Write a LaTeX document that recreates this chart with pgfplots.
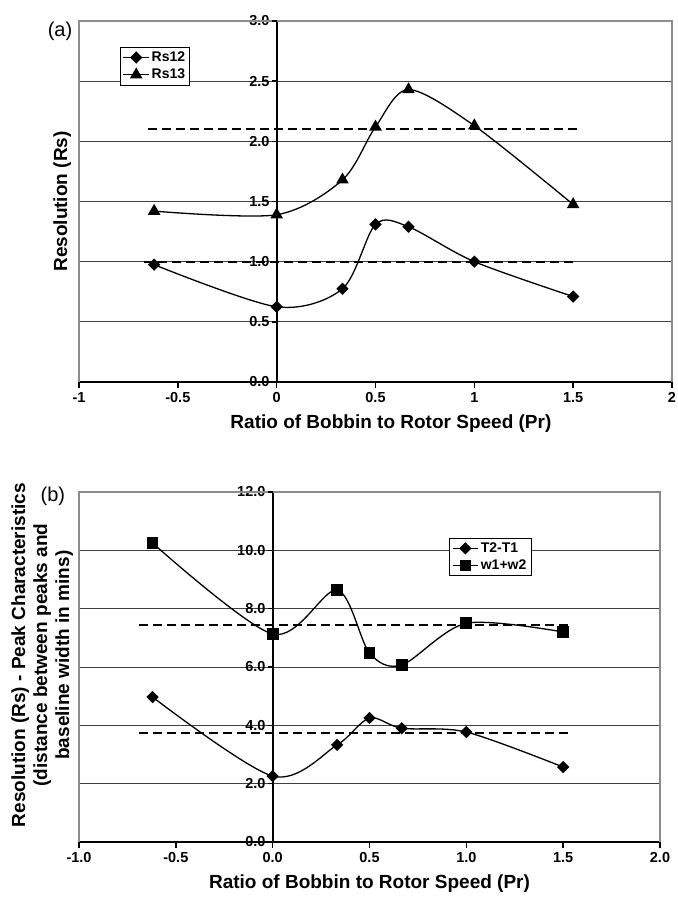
\documentclass[border=0pt]{standalone}
\usepackage{pgfplots}
\pgfplotsset{compat=1.18}
\usepackage{fontspec}
\setmainfont{Liberation Sans}
\tikzset{tk/.style={line width=1.4pt, black}}
\begin{document}
\begin{tikzpicture}
\useasboundingbox (0,0) rectangle (678pt,898pt);
\pgfplotsset{
  common/.style={
    scale only axis,
    clip=false,
    axis x line=bottom,
    axis y line=center,
    enlargelimits=false,
    hide obscured x ticks=false,
    hide obscured y ticks=false,
    axis line style={-, line width=1.8pt, black},
    every inner y axis line/.append style={-, line width=1.8pt, black},
    every outer x axis line/.append style={-, line width=1.8pt, black},
    every inner x axis line/.append style={-, line width=1.8pt, black},
    every outer y axis line/.append style={-, line width=1.8pt, black},
    major tick length=0pt,
    ymajorgrids=true,
    grid style={black!75, line width=0.9pt},
    tick label style={font=\fontsize{14.5}{16}\selectfont\bfseries},
    xticklabel style={yshift=-7pt},
    /pgf/number format/assume math mode=true,
    yticklabel style={/pgf/number format/fixed, /pgf/number format/fixed zerofill, /pgf/number format/precision=1, inner sep=1pt, xshift=-6pt},
    label style={font=\fontsize{19}{22}\selectfont\bfseries},
    legend style={font=\fontsize{14}{16}\selectfont\bfseries, draw=black, line width=0.7pt, fill=white, inner sep=2.5pt, row sep=2pt},
    legend cell align=left,
    legend image code/.code={\draw[mark repeat=2,mark phase=2] plot coordinates {(-0.1cm,0cm) (0.35cm,0cm) (0.8cm,0cm)};},
    every axis plot/.append style={line width=1.3pt, black},
  },
}
% ---------------- (a) ----------------
\begin{axis}[common,
  at={(79pt,516pt)}, anchor=south west,
  width=593pt, height=361pt,
  xmin=-1, xmax=2, ymin=0, ymax=3,
  xtick={-1,-0.5,0,0.5,1,1.5,2},
  xticklabels={-1,-0.5,0,0.5,1,1.5,2},
  ytick={0,0.5,1,1.5,2,2.5,3},
  xlabel={Ratio of Bobbin to Rotor Speed (Pr)},
  ylabel={Resolution (Rs)},
  xlabel style={at={(axis description cs:0.526,0)}, anchor=north, yshift=-33pt, inner sep=0pt},
  ylabel style={at={(axis description cs:-0.02,0.5)}, anchor=base, rotate=90, inner sep=0pt},
  legend style={at={(axis description cs:0.069,0.928)}, anchor=north west},
]
\draw[black!45, line width=1.2pt] (rel axis cs:0,0) -- (rel axis cs:0,1) -- (rel axis cs:1,1) -- (rel axis cs:1,0);
\pgfplotsinvokeforeach{-1,-0.5,0,0.5,1,1.5,2}{\draw[tk] (axis cs:#1,0) -- ([yshift=-6pt]axis cs:#1,0);}
\pgfplotsinvokeforeach{0,0.5,1,1.5,2,2.5,3}{\draw[tk] (axis cs:0,#1) -- ([xshift=-5pt]axis cs:0,#1);}
\addplot[black, line width=1.8pt, dash pattern=on 9pt off 5pt, mark=none, forget plot] coordinates {(-0.65,2.1) (1.53,2.1)};
\addplot[black, line width=1.8pt, dash pattern=on 9pt off 5pt, mark=none, forget plot] coordinates {(-0.67,1.0) (1.5,1.0)};
\addplot[smooth, mark=square*, mark size=3.7pt, mark options={rotate=45}] coordinates {
(-0.62,0.975) (0,0.625) (0.333,0.775) (0.5,1.31) (0.667,1.29) (1,1.0) (1.5,0.71)};
\addlegendentry{Rs12}
\addplot[smooth, mark=triangle*, mark size=6pt] coordinates {
(-0.62,1.42) (0,1.39) (0.333,1.68) (0.5,2.12) (0.667,2.43) (1,2.13) (1.5,1.475)};
\addlegendentry{Rs13}
\node[font=\fontsize{20}{22}\selectfont, inner sep=0pt] at (axis description cs:-0.032,0.972) {(a)};
\end{axis}
% ---------------- (b) ----------------
\begin{axis}[common,
  at={(79pt,56pt)}, anchor=south west,
  width=581pt, height=350pt,
  xmin=-1, xmax=2, ymin=0, ymax=12,
  xtick={-1,-0.5,0,0.5,1,1.5,2},
  xticklabel style={/pgf/number format/fixed, /pgf/number format/fixed zerofill, /pgf/number format/precision=1},
  ytick={0,2,4,6,8,10,12},
  xlabel={Ratio of Bobbin to Rotor Speed (Pr)},
  ylabel={Resolution (Rs) - Peak Characteristics\\(distance between peaks and\\baseline width in mins)},
  xlabel style={at={(axis description cs:0.5,0)}, anchor=north, yshift=-33pt, inner sep=0pt},
  ylabel style={at={(axis description cs:-0.01,0.534)}, anchor=south, rotate=90, inner sep=0pt, align=center},
  legend style={at={(axis description cs:0.637,0.869)}, anchor=north west},
]
\draw[black!45, line width=1.2pt] (rel axis cs:0,0) -- (rel axis cs:0,1) -- (rel axis cs:1,1) -- (rel axis cs:1,0);
\pgfplotsinvokeforeach{-1,-0.5,0,0.5,1,1.5,2}{\draw[tk] (axis cs:#1,0) -- ([yshift=-6pt]axis cs:#1,0);}
\pgfplotsinvokeforeach{0,2,4,6,8,10,12}{\draw[tk] (axis cs:0,#1) -- ([xshift=-5pt]axis cs:0,#1);}
\addplot[black, line width=1.8pt, dash pattern=on 9pt off 5pt, mark=none, forget plot] coordinates {(-0.69,7.45) (1.53,7.45)};
\addplot[black, line width=1.8pt, dash pattern=on 9pt off 5pt, mark=none, forget plot] coordinates {(-0.69,3.74) (1.53,3.74)};
\addplot[smooth, mark=square*, mark size=3.7pt, mark options={rotate=45}] coordinates {
(-0.62,4.97) (0,2.26) (0.333,3.33) (0.5,4.25) (0.667,3.9) (1,3.77) (1.5,2.57)};
\addlegendentry{T2-T1}
\addplot[smooth, mark=square*, mark size=5.2pt] coordinates {
(-0.62,10.25) (0,7.13) (0.333,8.64) (0.5,6.48) (0.667,6.07) (1,7.5) (1.5,7.2)};
\addlegendentry{w1+w2}
\node[font=\fontsize{20}{22}\selectfont, inner sep=0pt] at (axis description cs:-0.045,0.989) {(b)};
\end{axis}
\end{tikzpicture}
\end{document}
